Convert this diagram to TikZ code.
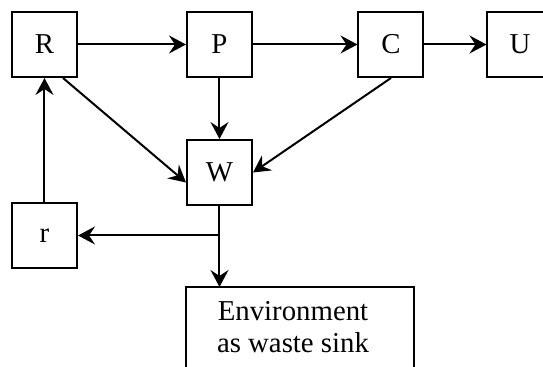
\documentclass[tikz,border=0pt]{standalone}
\usepackage{fontspec}
\setmainfont{Liberation Serif}
\usetikzlibrary{arrows.meta, calc}

\tikzset{
    box/.style={draw, line width=1pt, minimum width=32.5pt, minimum height=32.5pt,
        inner sep=0pt, font=\fontsize{14.4}{16}\selectfont},
    flow/.style={-{Stealth[length=8.5pt, width=9pt, inset=3pt]}, line width=1pt},
}

\begin{document}
\begin{tikzpicture}[x=0.5pt, y=-0.5pt]
        \useasboundingbox (0,0) rectangle (543,367);
        \node[box] (R) at (44.5,44.5) {R};
        \node[box] (P) at (219.5,44.5) {P};
        \node[box] (C) at (391,44.5) {C};
        \node[box] (U) at (520,44.5) {U};
        \node[box] (W) at (219.5,172.5) {W};
        \node[box] (r) at (44.5,235.5) {r};
        \node[box, draw=none, minimum width=106pt, inner ysep=6.5pt, align=center, anchor=north] (E) at (293,287) {Environment\\as waste sink};
        \draw[line width=1pt] (E.north west) rectangle ($(E.south east)+(14,30)$);
        \draw[flow] (R) -- (P);
        \draw[flow] (P) -- (C);
        \draw[flow] (C) -- (U);
        \draw[flow] (P) -- (W);
        \draw[flow] ($(R.south east)+(-15,0)$) -- ($(W.west)+(0,10)$);
        \draw[flow] (C.south) -- (W.east);
        % waste back to recycling
        \coordinate (J) at (W.south |- r.east);
        \draw[flow] (J) -- (r.east);
        \draw[flow] (W.south) -- (W.south |- E.north);
        \draw[flow] (r.north) -- (R.south);
    \end{tikzpicture}
\end{document}
